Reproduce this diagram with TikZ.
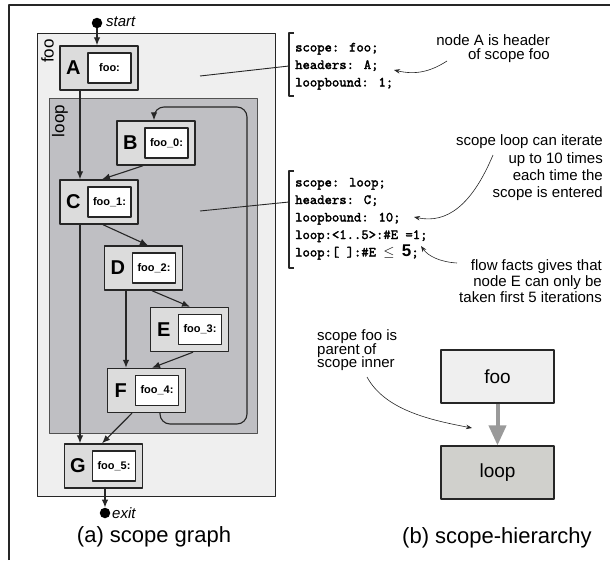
\documentclass[tikz,border=0pt]{standalone}
\usepackage{fontspec}
\setmainfont{Liberation Sans}
\newfontfamily\codefont[Extension=.otf, RawFeature={embolden=2.2}]{lmmono10-regular}
\usetikzlibrary{arrows.meta}

\definecolor{ink}{HTML}{262626}
\definecolor{fooFill}{HTML}{EFEFEF}
\definecolor{loopFill}{HTML}{BFBFC3}
\definecolor{blkFill}{HTML}{DCDCDC}
\definecolor{hierLoop}{HTML}{D0D0CC}
\definecolor{hierArrow}{HTML}{9A9A9A}

% basic block: outer grey box, bold letter, white label box
% #1 name, #2 x, #3 y, #4 letter, #5 label
\newcommand\scopeblock[5]{%
  \node[blk] (#1) at (#2,#3) {};
  \node[blkletter] (#1l) at ([xshift=14pt]#1.west) {#4};
  \node[blkinner] (#1i) at ([xshift=10.5pt]#1.center) {#5};
}

\begin{document}
\begin{tikzpicture}[x=1pt, y=-1pt, line join=round,
  region/.style={draw=ink, line width=0.9pt},
  blk/.style={draw=ink, fill=blkFill, line width=1.4pt, minimum width=78pt,
    minimum height=44pt, inner sep=0pt},
  blkletter/.style={font=\fontsize{20}{20}\selectfont\bfseries, inner sep=0pt},
  blkinner/.style={draw=ink, fill=white, line width=1.1pt, minimum width=43pt,
    minimum height=30pt, inner sep=0pt, font=\fontsize{11}{11}\selectfont\bfseries},
  edge/.style={draw=ink, line width=1.1pt, -{Latex[length=8pt,width=6.5pt]}},
  dotnode/.style={circle, fill=black, inner sep=0pt, minimum size=10.5pt},
  code/.style={font=\fontsize{14}{17.5}\selectfont\codefont,
    anchor=base west, inner sep=0pt},
  bracket/.style={draw=ink, line width=1.1pt},
  note/.style={font=\fontsize{15}{15}\selectfont, inner sep=0pt},
  notearrow/.style={draw=ink, line width=0.6pt, -{Stealth[length=6pt,width=4.5pt]}},
  regionlabel/.style={font=\fontsize{17}{17}\selectfont, rotate=90, inner sep=0pt},
  hbox/.style={draw=ink, line width=1.2pt, minimum width=113pt, minimum height=53pt,
    inner sep=0pt, font=\fontsize{19}{19}\selectfont},
  caption/.style={font=\fontsize{22}{22}\selectfont, inner sep=0pt}]

\useasboundingbox (0,0) rectangle (610,560);

% outer frame
\draw[draw=ink, line width=1.2pt] (9,560) -- (9,5) -- (610,5);

% scope regions
\draw[region, fill=fooFill] (37,33) rectangle (275,496);
\draw[region, draw=ink!80, fill=loopFill] (49,98) rectangle (257,433);
\node[regionlabel] (fooLbl) at (47.5,51) {foo};
\node[regionlabel] (loopLbl) at (60,121) {loop};

% basic blocks
\scopeblock{A}{99}{68}{A}{foo:}
\scopeblock{B}{156}{143}{B}{foo\_0:}
\scopeblock{C}{99}{202}{C}{foo\_1:}
\scopeblock{D}{143.5}{268}{D}{foo\_2:}
\scopeblock{E}{189.5}{329.5}{E}{foo\_3:}
\scopeblock{F}{146.5}{390.5}{F}{foo\_4:}
\scopeblock{G}{103.5}{466}{G}{foo\_5:}

% entry and exit
\node[dotnode] (start) at (97,23) {};
\node[anchor=west, inner sep=0pt, font=\fontsize{15}{15}\selectfont\itshape] (startLbl)
  at (106,22) {start};
\node[dotnode] (exit) at (105,513) {};
\node[anchor=west, inner sep=0pt, font=\fontsize{15}{15}\selectfont\itshape] (exitLbl)
  at (112,513) {exit};

% control flow edges
\draw[edge] (start) -- (start |- A.north);
\draw[edge] ([xshift=-19pt]A.south) -- ([xshift=-19pt]C.north);
\draw[edge] ([xshift=-13pt]B.south) -- ([xshift=3pt]C.north);
\draw[edge] ([xshift=4pt]C.south) -- ([xshift=4.5pt]D.north);
\draw[edge] ([xshift=8.5pt]D.south) -- ([xshift=0.5pt]E.north);
\draw[edge] ([xshift=-17.5pt]D.south) -- ([xshift=-20.5pt]F.north);
\draw[edge] ([xshift=3.5pt]E.south) -- ([xshift=5.5pt]F.north);
\draw[edge] ([xshift=-19pt]C.south) -- ([xshift=-23.5pt]G.north);
\draw[edge] ([xshift=-14.5pt]F.south) -- ([xshift=-1.5pt]G.north);
\draw[edge] (exit |- G.south) -- (exit.north);
% back edge of the loop
\coordinate (backBot) at (247,424);
\coordinate (backTop) at (247,107);
\draw[edge, rounded corners=10pt] ([xshift=13.5pt]F.south) |- (backBot)
  -- (backTop) -| ([xshift=-2pt]B.north);

% scope facts for foo
\coordinate (fooPt) at (200,76);
\coordinate (br1t) at (289,33);
\coordinate (br1m) at (289,66);
\coordinate (br1b) at (289,96);
\draw[bracket] ([xshift=5pt]br1t) -- (br1t) -- (br1b) -- ([xshift=5pt]br1b);
\draw[draw=ink, line width=0.9pt] (fooPt) -- (br1m);
\node[code] (f1) at (295,51.5) {scope: foo;};
\node[code] (f2) at (295,69) {headers: A;};
\node[code] (f3) at (295,86.5) {loopbound: 1;};

% scope facts for loop
\coordinate (loopPt) at (200,211);
\coordinate (br2t) at (289,171);
\coordinate (br2m) at (289,202);
\coordinate (br2b) at (289,268);
\draw[bracket] ([xshift=5pt]br2t) -- (br2t) -- (br2b) -- ([xshift=5pt]br2b);
\draw[draw=ink, line width=0.9pt] (loopPt) -- (br2m);
\node[code] (l1) at (295,186.5) {scope: loop;};
\node[code] (l2) at (295,204) {headers: C;};
\node[code] (l3) at (295,221.5) {loopbound: 10;};
\node[code] (l4) at (295,239) {loop:<1..5>:\#E =1;};
\node[code] (l5) at (295,256.5) {loop:[ ]:\#E $\leq$ {\rmfamily\bfseries\fontsize{17}{17}\selectfont 5};};

% remarks
\node[note, anchor=base east] (nA1) at (550,45.5) {node A is header};
\node[note, anchor=base east] (nA2) at (550,59) {of scope foo};
\draw[notearrow] (447,61) .. controls (430,72) and (415,75) .. (394,70);

\node[note, anchor=base east] (nL1) at (603,145.5) {scope loop can iterate};
\node[note, anchor=base east] (nL2) at (603,163) {up to 10 times};
\node[note, anchor=base east] (nL3) at (603,180.5) {each time the};
\node[note, anchor=base east] (nL4) at (603,197.5) {scope is entered};
\draw[notearrow] (493,155) .. controls (472,205) and (447,224) .. (414,217);

\node[note, anchor=base east] (nF1) at (602,270.5) {flow facts gives that};
\node[note, anchor=base east] (nF2) at (602,286.5) {node E can only be};
\node[note, anchor=base east] (nF3) at (602,302) {taken first 5 iterations};
\draw[notearrow] (457,263) .. controls (440,262) and (428,256) .. (421,246);

\node[note, anchor=base west] (nP1) at (317,340.5) {scope foo is};
\node[note, anchor=base west] (nP2) at (317,354) {parent of};
\node[note, anchor=base west] (nP3) at (317,367.5) {scope inner};
\draw[notearrow] (367,377) .. controls (385,410) and (430,420) .. (472,428);

% scope hierarchy
\node[hbox, fill=fooFill] (hfoo) at (497.5,376.5) {foo};
\node[hbox, fill=hierLoop] (hloop) at (497.5,472.5) {loop};
\draw[hierArrow, line width=4pt, -{Triangle[width=17pt,length=20pt]}]
  (hfoo.south) -- (hloop.north);

% captions
\node[caption] (capA) at (154,537) {(a) scope graph};
\node[caption] (capB) at (497,538) {(b) scope-hierarchy};
\end{tikzpicture}
\end{document}
